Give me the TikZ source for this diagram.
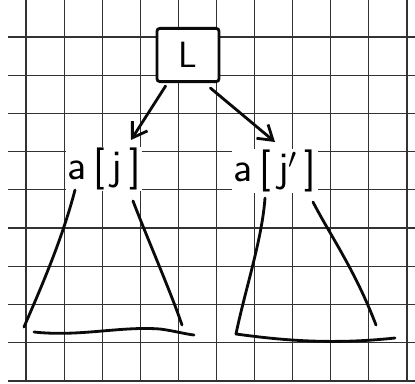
\documentclass[tikz,border=0pt]{standalone}
\usepackage{tikz}
\usetikzlibrary{arrows.meta}
\definecolor{penblack}{RGB}{10, 10, 10}
\definecolor{gridgray}{RGB}{50, 50, 50}
\tikzset{
 gridline/.style={draw=gridgray, line width=0.8pt},
 penline/.style={draw=penblack, line width=2pt, line cap=round, line join=round},
 boxnode/.style={
 rectangle,
 rounded corners=2pt,
 draw=penblack,
 fill=white,
 line width=2pt,
 minimum width=1.55cm,
 minimum height=1.33cm,
 font=\sffamily\fontsize{26}{30}\selectfont
 },
 labelnode/.style={
 fill=white,
 inner sep=1pt,
 font=\sffamily\fontsize{30}{34}\selectfont
 },
 penarrow/.style={penline, -{Straight Barb[length=3.5mm, width=4.5mm, line width=2pt]}}
}
\begin{document}
\begin{tikzpicture}[x=0.025cm, y=-0.025cm]
 \useasboundingbox (0,0) rectangle (415,383);
 \fill[white] (0,0) rectangle (415,383);
 \foreach \k in {0,...,10}
 \draw[gridline] (26+38.1*\k,0) -- (26+38.1*\k,381);
 \foreach \k in {0,...,8}
 \draw[gridline] (8,37+38.2*\k) -- (415,37+38.2*\k);
 \draw[gridline, line width=1.4pt] (8,381) -- (415,381);
 \node[boxnode] (root) at (188,55) {L};
 \node[labelnode] (aj) at (104,169) {a\,[\,j\,]};
 \node[labelnode] (ajp) at (275,171) {a\,[\,j$'$\,]};
 \coordinate (ltop1) at (75,190);
 \coordinate (lbot1) at (24,327);
 \coordinate (ltop2) at (133,201);
 \coordinate (lbot2) at (182,325);
 \coordinate (rtop1) at (265,198);
 \coordinate (rbot1) at (236,334);
 \coordinate (rtop2) at (313,202);
 \coordinate (rbot2) at (376,325);
 \draw[penarrow] (root.south west) ++(10,3) -- (131,140);
 \draw[penarrow] (root.south east) ++(-10,5) -- (275,142);
 \draw[penline] (ltop1) .. controls (62,240) and (40,290) .. (lbot1);
 \draw[penline] (ltop2) .. controls (150,245) and (170,290) .. (lbot2);
 \draw[penline] (34,332) .. controls (80,337) and (120,326) .. (160,329) .. controls (175,331) and (185,334) .. (194,335);
 \draw[penline] (rtop1) .. controls (262,240) and (245,290) .. (rbot1);
 \draw[penline] (rbot1) .. controls (280,340) and (330,345) .. (395,338);
 \draw[penline] (rtop2) .. controls (330,235) and (355,270) .. (rbot2);
\end{tikzpicture}
\end{document}
